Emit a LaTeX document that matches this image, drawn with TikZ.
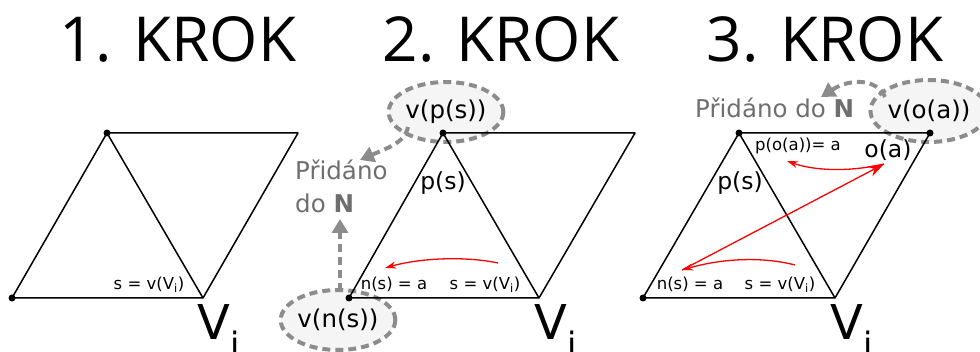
\documentclass[tikz,border=0pt]{standalone}
\usepackage{fontspec}
\setmainfont{DejaVu Sans}
\newfontfamily\titlefont{Open Sans}
\usetikzlibrary{arrows.meta,shapes.geometric}
\definecolor{dashgray}{HTML}{8C8C8C}
\definecolor{txtgray}{HTML}{6E6E6E}
\definecolor{ellfill}{HTML}{F5F5F5}
\tikzset{
  edge/.style={line width=1.5pt, black},
  vdot/.style={circle, fill=black, inner sep=0pt, minimum size=7pt},
  title/.style={font=\titlefont\fontsize{62}{62}\selectfont, anchor=base},
  small/.style={font=\fontsize{16.5}{16.5}\selectfont, anchor=base},
  mid/.style={font=\fontsize{23.5}{23.5}\selectfont, anchor=base},
  big/.style={font=\fontsize{48}{48}\selectfont, anchor=base west, inner sep=0pt},
  gtext/.style={font=\fontsize{24.5}{24.5}\selectfont, text=txtgray, anchor=base west, inner sep=0pt},
  ell/.style={ellipse, draw=dashgray, fill=ellfill, line width=4pt, dash pattern=on 8pt off 5pt, minimum width=#1, minimum height=60pt, inner sep=0pt, font=\fontsize{24.5}{24.5}\selectfont},
  garrow/.style={draw=dashgray, line width=4pt, dash pattern=on 8pt off 5pt, -{Triangle[length=14pt,width=16pt]}},
  rarrow/.style={draw=red, line width=1.3pt, -{Stealth[length=11pt,width=7pt]}},
}
\begin{document}
\begin{tikzpicture}[x=1pt,y=-1pt]
\useasboundingbox (0,0) rectangle (980,352);
% titles
\node[title] (t1) at (178,62) {1. KROK};
\node[title] (t2) at (501,62) {2. KROK};
\node[title] (t3) at (825,62) {3. KROK};

% ---------- panel 1
\coordinate (a1) at (12,298);
\coordinate (b1) at (107,133);
\coordinate (c1) at (298,133);
\coordinate (d1) at (203,298);
\draw[edge, line join=round] (a1) -- (b1) -- (c1) -- (d1) -- cycle;
\draw[edge] (b1) -- (d1);
\node[vdot] (pa1) at (a1) {};
\node[vdot] (pb1) at (b1) {};
\node[small] (s1) at (149,290) {s = v(V\textsubscript{i})};
\node[big] (v1) at (197,340) {V\textsubscript{i}};

% ---------- panel 2
\coordinate (a2) at (349,298);
\coordinate (b2) at (443,133);
\coordinate (c2) at (635,133);
\coordinate (d2) at (539,298);
\node[ell=102pt] (e21) at (446,112) {v(p(s))};
\node[ell=102pt] (e22) at (338,320) {v(n(s))};
\draw[edge, line join=round] (a2) -- (b2) -- (c2) -- (d2) -- cycle;
\draw[edge] (b2) -- (d2);
\node[vdot] (pa2) at (a2) {};
\node[vdot] (pb2) at (b2) {};
\node[mid] (ps2) at (443,190) {p(s)};
\node[small] (ns2) at (394,290) {n(s) = a};
\node[small] (s2) at (485,290) {s = v(V\textsubscript{i})};
\node[big] (v2) at (534,340) {V\textsubscript{i}};
\node[gtext] (g21) at (295,180) {Přidáno};
\node[gtext] (g22) at (295,213) {do \textbf{N}};
\coordinate (r2s) at (498,263);
\coordinate (r2e) at (385,268);
\draw[rarrow] (r2s) .. controls (465,256) and (420,258) .. (r2e);
\coordinate (g2a) at (408,127);
\coordinate (g2b) at (360,160);
\draw[garrow] (g2a) .. controls (405,142) and (390,147) .. (g2b);
\coordinate (g2c) at (340,291);
\coordinate (g2d) at (340,219);
\draw[garrow] (g2c) -- (g2d);

% ---------- panel 3
\coordinate (a3) at (643,298);
\coordinate (b3) at (739,133);
\coordinate (c3) at (930,133);
\coordinate (d3) at (835,298);
\node[ell=98pt, minimum height=62pt] (e31) at (929,111) {v(o(a))};
\draw[edge, line join=round] (a3) -- (b3) -- (c3) -- (d3) -- cycle;
\draw[edge] (b3) -- (d3);
\node[vdot] (pa3) at (a3) {};
\node[vdot] (pb3) at (b3) {};
\node[vdot] (pc3) at (c3) {};
\node[gtext] (g31) at (695,118) {Přidáno do \textbf{N}};
\node[small] (po3) at (798,151) {p(o(a))= a};
\node[mid] (oa3) at (888,158) {o(a)};
\node[mid] (ps3) at (740,190) {p(s)};
\node[small] (ns3) at (690,290) {n(s) = a};
\node[small] (s3) at (780,290) {s = v(V\textsubscript{i})};
\node[big] (v3) at (830,340) {V\textsubscript{i}};
\coordinate (r3s) at (795,265);
\coordinate (r3n) at (682,270);
\coordinate (r3o) at (884,164);
\coordinate (r3p) at (787,161);
\draw[rarrow] (r3s) .. controls (760,256) and (720,259) .. (r3n);
\draw[rarrow, -{Stealth[length=16pt,width=11pt]}] (r3n) -- (r3o);
\draw[rarrow] (r3o) .. controls (850,172) and (815,171) .. (r3p);
\coordinate (g3a) at (885,97);
\coordinate (g3b) at (821,97);
\draw[garrow] (g3a) .. controls (878,80) and (852,77) .. (g3b);
\end{tikzpicture}
\end{document}
